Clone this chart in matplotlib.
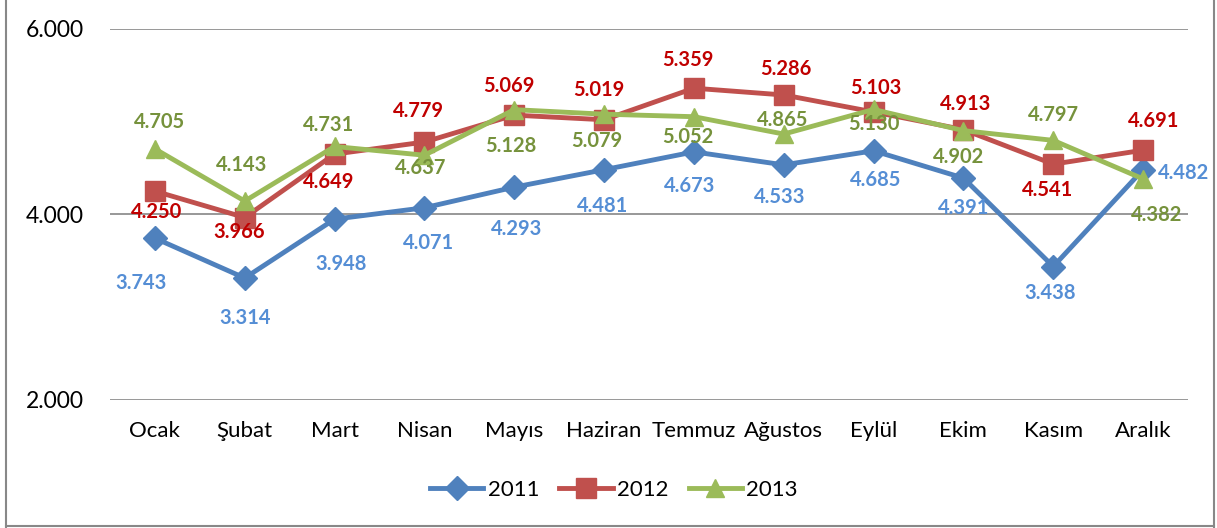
import matplotlib.pyplot as plt
from matplotlib.lines import Line2D

plt.rcParams['font.family'] = ['Lato', 'DejaVu Sans']

months = ['Ocak', 'Şubat', 'Mart', 'Nisan', 'Mayıs', 'Haziran', 'Temmuz',
          'Ağustos', 'Eylül', 'Ekim', 'Kasım', 'Aralık']
v2011 = [3743, 3314, 3948, 4071, 4293, 4481, 4673, 4533, 4685, 4391, 3438, 4482]
v2012 = [4250, 3966, 4649, 4779, 5069, 5019, 5359, 5286, 5103, 4913, 4541, 4691]
v2013 = [4705, 4143, 4731, 4637, 5128, 5079, 5052, 4865, 5130, 4902, 4797, 4382]
y_ticks = [2000, 4000, 6000]

# label offsets (pixels, relative to the marker)
off2011 = [(-14, -45), (0, -40), (6, -45), (4, -35), (2, -42), (-2, -36),
           (-4, -34), (-4, -32), (2, -29), (0, -30), (-3, -26), (40, -3)]
off2012 = [(2, -21), (-6, -14), (-6, -28), (-6, 31), (-5, 29), (-5, 30),
           (-6, 28), (2, 26), (2, 24), (2, 26), (-6, -26), (11, 29)]
off2013 = [(5, 27), (-3, 36), (-6, 21), (-4, -13), (-3, -36), (-7, -27),
           (-6, -20), (-1, 14), (0, -15), (-5, -26), (0, 25), (14, -36)]


def fmt(v):
    return f"{v:,}".replace(',', '.')


series = [
    ('2011', v2011, '#4F81BD', '#558ED5', 'D', 12, off2011),
    ('2012', v2012, '#C0504D', '#C00000', 's', 14, off2012),
    ('2013', v2013, '#9BBB59', '#76923C', '^', 13, off2013),
]

fig = plt.figure(figsize=(12.17, 5.28), dpi=100)
ax = fig.add_axes([110 / 1217, 128 / 528, 1078 / 1217, 371.3 / 528])

x = list(range(len(months)))
handles = []
for name, vals, col, lcol, mk, ms, offs in series:
    ax.plot(x, vals, color=col, lw=3.5, marker=mk, markersize=ms,
            markerfacecolor=col, markeredgecolor=col, zorder=3)
    handles.append(Line2D([], [], color=col, lw=3.5, marker=mk, markersize=ms,
                          markerfacecolor=col, markeredgecolor=col))
    for xi, v, (dx, dy) in zip(x, vals, offs):
        ax.annotate(fmt(v), (xi, v), xytext=(dx, dy), textcoords='offset pixels',
                    ha='center', va='center', fontsize=14.5, fontweight='bold',
                    color=lcol, zorder=4)

ax.set_xlim(-0.5, 11.5)
ax.set_ylim(2000, 6000)
ax.set_yticks(y_ticks)
ax.set_yticklabels([fmt(t) for t in y_ticks], fontsize=16.5)
ax.set_xticks(x)
ax.set_xticklabels(months, fontsize=16)
ax.tick_params(axis='y', length=0, pad=19)
ax.tick_params(axis='x', length=0, pad=15)
ax.grid(axis='y', color='#868686', lw=1.2)
ax.set_axisbelow(True)
for s in ax.spines.values():
    s.set_visible(False)

fig.legend(handles, ['2011', '2012', '2013'], loc='center',
           bbox_to_anchor=(614 / 1217, 1 - 490 / 528), ncol=3, frameon=False,
           fontsize=16, handlelength=2.4, handletextpad=0.2, columnspacing=0.9)

# outer chart border
for xs, ys in [((6 / 1217, 6 / 1217), (0, 1)),
               ((1214 / 1217, 1214 / 1217), (0, 1)),
               ((6 / 1217, 1214 / 1217), (2 / 528, 2 / 528))]:
    fig.add_artist(Line2D(xs, ys, color='#888888', lw=1.5,
                          transform=fig.transFigure))

fig.savefig('out.png', dpi=100)
